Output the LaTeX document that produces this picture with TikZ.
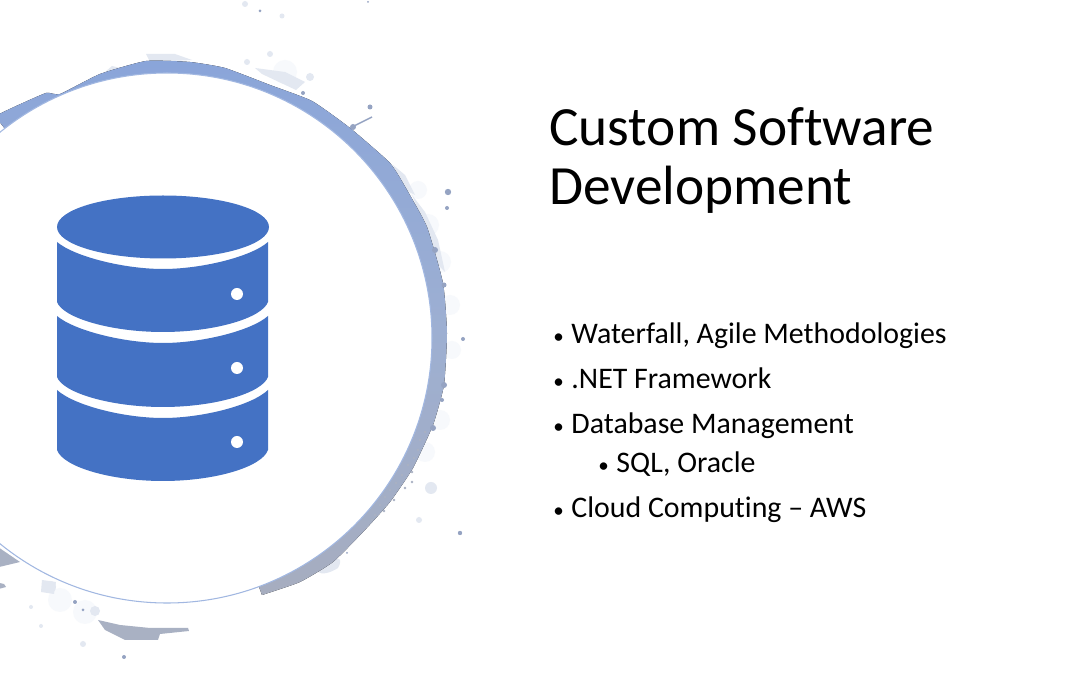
\documentclass[tikz,border=0pt]{standalone}
\usepackage[svgnames]{xcolor}
\usepackage{fontspec}
\setmainfont[Ligatures=NoCommon]{Carlito}
\usepackage{tikz}
\definecolor{iconblue}{HTML}{4472C4}
\definecolor{ringtop}{HTML}{8AA5D9}
\definecolor{ringmid}{HTML}{9DAFD2}
\definecolor{ringbot}{HTML}{A6ADBF}
\definecolor{splatdark}{HTML}{95A3C2}
\definecolor{splatmid}{HTML}{A9B1C3}
\definecolor{splatlight}{HTML}{E3E8F1}
\definecolor{mist}{HTML}{F7F9FC}
\tikzstyle{tier}=[fill=iconblue,draw=none]
\tikzstyle{led}=[fill=white,draw=none]
\tikzstyle{smear}=[fill=splatmid,draw=none]
\tikzstyle{cloud}=[fill=mist,draw=none]
\tikzstyle{title}=[anchor=base west,inner sep=0pt,font=\fontsize{31.5}{36}\selectfont]
\tikzstyle{item}=[anchor=base west,inner sep=0pt,font=\fontsize{17}{20}\selectfont]
\newcommand{\bul}{\makebox[10.3pt][l]{\fontsize{12}{12}\selectfont\textbullet}}

\begin{document}
\begin{tikzpicture}[x=0.02cm,y=-0.02cm]
\useasboundingbox (0,0) rectangle (1080,675);
\clip (0,0) rectangle (1080,675);
\fill[white] (0,0) rectangle (1080,675);

	% pale washes behind the ring
\foreach \place/\rad in {{(285,72)/12}, {(418,190)/9}, {(428,225)/11}, {(440,262)/11}, {(450,305)/10},
	{(452,350)/9}, {(440,420)/10}, {(425,452)/10}, {(60,600)/12}, {(85,612)/12}, {(115,590)/9}}
	\fill[cloud] \place circle (\rad);
\fill[splatlight] (104,73) -- (112,66) -- (120,68) -- (112,74) -- cycle;
\fill[splatlight] (146,54) -- (175,54) -- (192,60) -- (150,62) -- cycle;
\fill[splatlight] (255,68) -- (285,72) -- (305,82) -- (296,90) -- (262,74) -- cycle;
\fill[splatlight] (393,165) -- (405,175) -- (415,195) -- (405,190) -- cycle;
\fill[splatlight] (412,195) -- (425,212) -- (438,240) -- (445,272) -- (435,262) -- (424,225) -- cycle;
\fill[splatlight] (318,572) .. controls (335,555) and (345,555) .. (338,568) .. controls (330,573) and (322,575) .. (318,572) -- cycle;
\fill[splatlight] (42,580) -- (56,582) -- (54,594) -- (41,592) -- cycle;

	% ring, the white disc covers its inner half
\fill[top color=ringtop,bottom color=ringbot,middle color=ringmid]
	plot[smooth,tension=0.3] coordinates {(-5,116) (14,107) (46,93) (60,94) (100,74) (146,61) (190,62) (225,68)
	(270,85) (312,101) (350,128) (390,163) (407,190) (427,227) (443,283) (447,333) (444,385) (433,425) (413,468)
	(390,502) (363,532) (333,562) (300,582) (262,595)} -- (167,338) -- cycle;
\fill[splatmid] (-5,545) -- (20,562) -- (-5,568) -- cycle;
\fill[splatmid] (-5,582) -- (4,584) -- (6,587) -- (-5,590) -- cycle;
\fill[smear] (98,620) -- (120,625) -- (150,628) -- (188,628) -- (189,631) -- (160,634) -- (158,640) -- (125,640) -- (105,630) -- cycle;
\draw[fill=white,draw=ringtop!80!white,line width=0.6pt] (167,338) circle (265);

	% splatter
\draw[splatdark,line width=0.8pt] (352,127) -- (372,117);
\foreach \place/\rad in {{(353,127)/3}, {(370,107)/2.5}, {(260,11)/1.5}, {(368,2)/1}, {(448,192)/3.2}, {(447,208)/2},
	{(435,250)/3}, {(444,285)/2.5}, {(303,93)/2}, {(463,339)/2}, {(444,385)/3}, {(460,533)/2.2}, {(124,657)/2},
	{(442,400)/2}, {(433,428)/3}, {(347,553)/1}, {(75,602)/2}, {(83,610)/1.5}}
	\fill[splatdark] \place circle (\rad);
\foreach \place/\rad in {{(245,4)/3}, {(282,16)/2.5}, {(270,54)/3}, {(247,62)/3}, {(310,77)/4}, {(431,488)/6},
	{(419,520)/3}, {(50,587)/6}, {(95,611)/5}, {(31,607)/2}, {(41,626)/2}, {(83,644)/3}}
	\fill[splatlight] \place circle (\rad);
\foreach \place in {(418,450), (414,458), (408,465), (412,472), (402,475), (396,483), (405,488), (390,490),
	(385,497), (394,500), (380,505), (375,515), (384,511), (420,440), (425,432), (412,482), (372,520)}
	\fill[splatmid] \place circle (1.4);

	% database icon
\fill[tier] (163,227) ellipse (106 and 31.5);
\foreach \name/\top/\low/\side/\under in {one/242/269/302/332, two/316/343/377/407, three/390/418/450/481}
	\fill[tier] (57,\top) .. controls (75,\low-12) and (125,\low) .. (163,\low) .. controls (201,\low) and (251,\low-12) .. (268,\top)
		-- (268,\side) .. controls (262,\under-14) and (215,\under) .. (163,\under) .. controls (111,\under) and (63,\under-14) .. (57,\side) -- cycle;
\foreach \place in {(237,294), (237,368), (237,442)}
	\fill[led] \place circle (6);

	% text
\node[title] (custom) at (549,146) {Custom Software};
\node[title] (develop) at (549,205) {Development};
\node[item] (water) at (553,344) {\bul Waterfall, Agile Methodologies};
\node[item] (net) at (553,389) {\bul .NET Framework};
\node[item] (manage) at (553,434) {\bul Database Management};
\node[item] (sql) at (598,473) {\bul SQL, Oracle};
\node[item] (cloudaws) at (553,518) {\bul Cloud Computing – AWS};

\end{tikzpicture}
\end{document}
